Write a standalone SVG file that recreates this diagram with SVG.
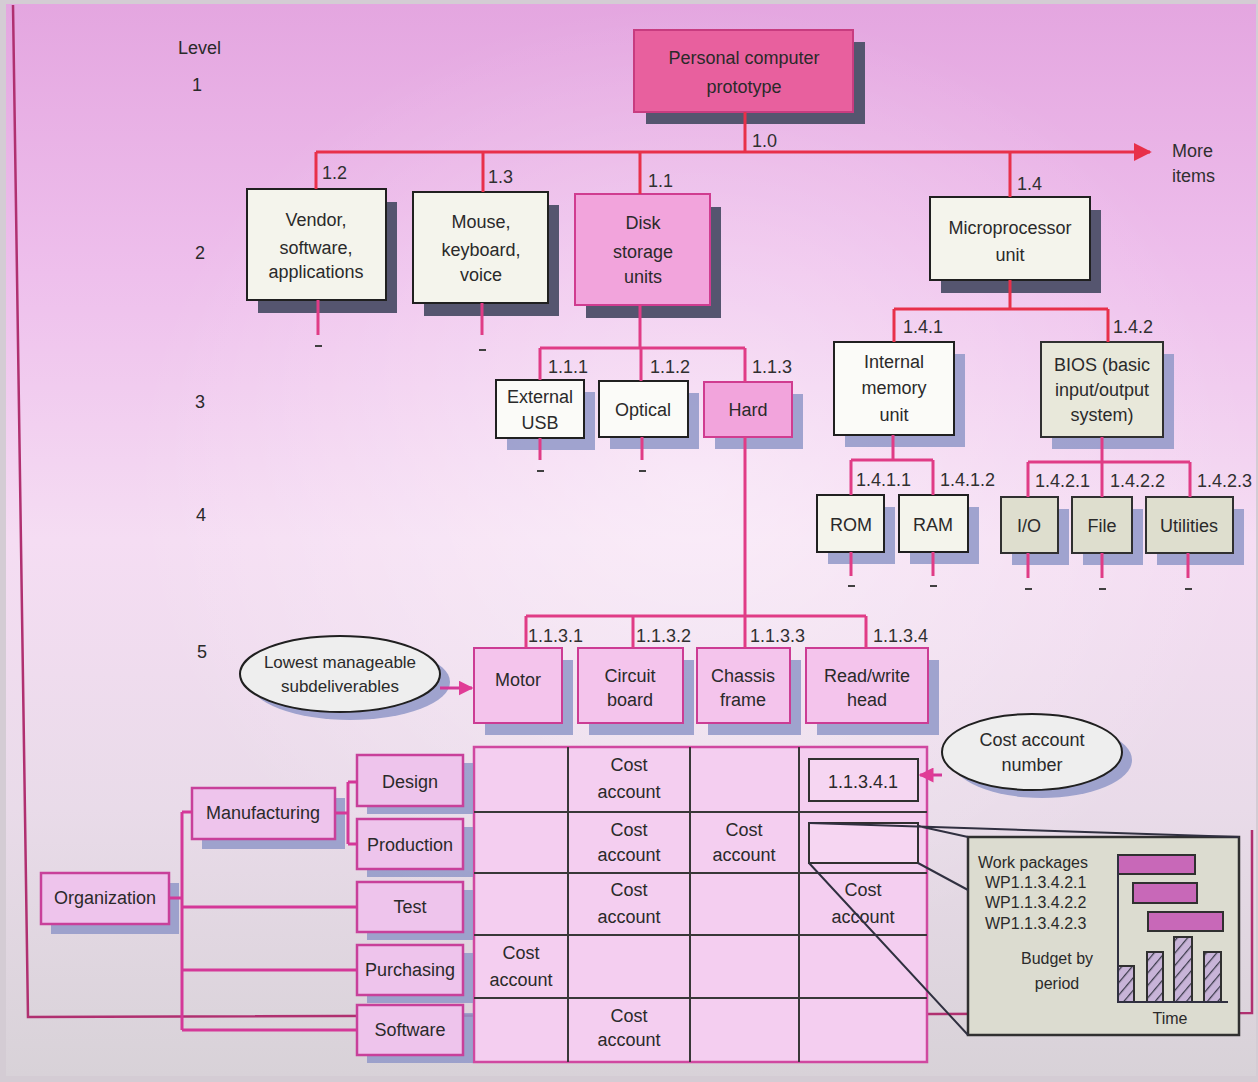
<svg xmlns="http://www.w3.org/2000/svg" width="1258" height="1082" viewBox="0 0 1258 1082">
<defs>
<linearGradient id="bg" x1="0" y1="0" x2="0" y2="1">
<stop offset="0" stop-color="#e4a6e0"/>
<stop offset="0.25" stop-color="#eebfec"/>
<stop offset="0.5" stop-color="#f5ddf3"/>
<stop offset="0.75" stop-color="#e9dbe9"/>
<stop offset="1" stop-color="#d8d2d8"/>
</linearGradient>
<radialGradient id="glow" cx="0.55" cy="0.45" r="0.45">
<stop offset="0" stop-color="#ffffff" stop-opacity="0.45"/>
<stop offset="1" stop-color="#ffffff" stop-opacity="0"/>
</radialGradient>
<pattern id="hatch" width="8" height="8" patternUnits="userSpaceOnUse" patternTransform="rotate(40)">
<rect width="8" height="8" fill="#c8b4d8"/>
<line x1="0" y1="0" x2="0" y2="8" stroke="#3a3a4a" stroke-width="2.5"/>
</pattern>
<marker id="arrRed" viewBox="0 0 10 10" refX="9" refY="5" markerWidth="6" markerHeight="6" orient="auto" markerUnits="strokeWidth">
<path d="M0,0 L10,5 L0,10 z" fill="#e8304a"/>
</marker>
<marker id="arrPink" viewBox="0 0 10 10" refX="9" refY="5" markerWidth="5" markerHeight="5" orient="auto" markerUnits="strokeWidth">
<path d="M0,0 L10,5 L0,10 z" fill="#e03c96"/>
</marker>
<style>
text{font-family:"Liberation Sans",Arial,sans-serif;font-size:18px;fill:#2a2a2a}
.c{text-anchor:middle}
.sm{font-size:16px}
.lbl{font-size:18px;fill:#303030}
.sh1{fill:#55556f}
.sh2{fill:#9098c8;opacity:0.85}
.bw{fill:#f4f4ec;stroke:#202020;stroke-width:2}
.bwh{fill:#fbfbf8;stroke:#202020;stroke-width:2}
.bg2{fill:#dedece;stroke:#303030;stroke-width:2}
.bp{fill:#f2a4dc;stroke:#d03c90;stroke-width:2}
.broot{fill:#e8609e;stroke:#c83c80;stroke-width:2}
.bl5{fill:#f4c4ec;stroke:#cc3c94;stroke-width:2}
.borg{fill:#eec4ec;stroke:#c8409a;stroke-width:2.5}
.red{stroke:#e8304a;stroke-width:3;fill:none}
.pk{stroke:#e03c86;stroke-width:3;fill:none}
.mg{stroke:#d43898;stroke-width:3;fill:none}
.dash{stroke:#404040;stroke-width:2}
.grid{stroke:#383838;stroke-width:2;fill:none}
.thin{stroke:#303040;stroke-width:2;fill:none}
.ell{fill:#eeeeee;stroke:#202020;stroke-width:2}
</style>
</defs>

<g id="background">
<rect x="0" y="0" width="1258" height="1082" fill="#d4ccd4"/>
<rect x="6" y="4" width="1250" height="1072" fill="url(#bg)"/>
<rect x="6" y="4" width="1250" height="1072" fill="url(#glow)"/>
<path d="M13,5 L28,1017 L1252,1013 L1252,830" fill="none" stroke="#b03070" stroke-width="2.5"/>
</g>

<g id="level-labels">
<text x="178" y="54">Level</text>
<text x="197" y="91" class="c">1</text>
<text x="200" y="259" class="c">2</text>
<text x="200" y="408" class="c">3</text>
<text x="201" y="521" class="c">4</text>
<text x="202" y="658" class="c">5</text>
</g>

<g id="n-root">
<rect x="646" y="42" width="219" height="82" class="sh1"/>
<rect x="634" y="30" width="219" height="82" class="broot"/>
<text x="744" y="64" class="c">Personal computer</text>
<text x="744" y="93" class="c">prototype</text>
</g>

<g id="n-1-2">
<rect x="258" y="202" width="139" height="111" class="sh1"/>
<rect x="247" y="189" width="139" height="111" class="bw"/>
<text x="316" y="226" class="c">Vendor,</text>
<text x="316" y="254" class="c">software,</text>
<text x="316" y="278" class="c">applications</text>
</g>
<g id="n-1-3">
<rect x="424" y="205" width="135" height="111" class="sh1"/>
<rect x="413" y="192" width="135" height="111" class="bw"/>
<text x="481" y="228" class="c">Mouse,</text>
<text x="481" y="256" class="c">keyboard,</text>
<text x="481" y="281" class="c">voice</text>
</g>
<g id="n-1-1">
<rect x="586" y="207" width="135" height="111" class="sh1"/>
<rect x="575" y="194" width="135" height="111" class="bp"/>
<text x="643" y="229" class="c">Disk</text>
<text x="643" y="258" class="c">storage</text>
<text x="643" y="283" class="c">units</text>
</g>
<g id="n-1-4">
<rect x="941" y="210" width="160" height="83" class="sh1"/>
<rect x="930" y="197" width="160" height="83" class="bw"/>
<text x="1010" y="234" class="c">Microprocessor</text>
<text x="1010" y="261" class="c">unit</text>
</g>

<g id="n-1-1-1">
<rect x="507" y="392" width="88" height="58" class="sh2"/>
<rect x="496" y="380" width="88" height="58" class="bwh"/>
<text x="540" y="403" class="c">External</text>
<text x="540" y="429" class="c">USB</text>
</g>
<g id="n-1-1-2">
<rect x="610" y="393" width="89" height="56" class="sh2"/>
<rect x="599" y="381" width="89" height="56" class="bwh"/>
<text x="643" y="416" class="c">Optical</text>
</g>
<g id="n-1-1-3">
<rect x="715" y="394" width="88" height="55" class="sh2"/>
<rect x="704" y="382" width="88" height="55" class="bp"/>
<text x="748" y="416" class="c">Hard</text>
</g>

<g id="n-1-4-1">
<rect x="845" y="354" width="120" height="93" class="sh2"/>
<rect x="834" y="342" width="120" height="93" class="bwh"/>
<text x="894" y="368" class="c">Internal</text>
<text x="894" y="394" class="c">memory</text>
<text x="894" y="421" class="c">unit</text>
</g>
<g id="n-1-4-2">
<rect x="1052" y="354" width="122" height="95" class="sh2"/>
<rect x="1041" y="342" width="122" height="95" class="bg2" style="fill:#e8e8da"/>
<text x="1102" y="371" class="c">BIOS (basic</text>
<text x="1102" y="396" class="c">input/output</text>
<text x="1102" y="421" class="c">system)</text>
</g>

<g id="n-1-4-1-1">
<rect x="828" y="507" width="67" height="57" class="sh2"/>
<rect x="817" y="495" width="67" height="57" class="bw"/>
<text x="851" y="531" class="c">ROM</text>
</g>
<g id="n-1-4-1-2">
<rect x="910" y="507" width="69" height="57" class="sh2"/>
<rect x="899" y="495" width="69" height="57" class="bw"/>
<text x="933" y="531" class="c">RAM</text>
</g>
<g id="n-1-4-2-1">
<rect x="1012" y="509" width="57" height="56" class="sh2"/>
<rect x="1001" y="497" width="57" height="56" class="bg2"/>
<text x="1029" y="532" class="c">I/O</text>
</g>
<g id="n-1-4-2-2">
<rect x="1083" y="509" width="60" height="56" class="sh2"/>
<rect x="1072" y="497" width="60" height="56" class="bg2"/>
<text x="1102" y="532" class="c">File</text>
</g>
<g id="n-1-4-2-3">
<rect x="1157" y="509" width="87" height="56" class="sh2"/>
<rect x="1146" y="497" width="87" height="56" class="bg2"/>
<text x="1189" y="532" class="c">Utilities</text>
</g>

<g id="n-1-1-3-1">
<rect x="485" y="660" width="88" height="75" class="sh2"/>
<rect x="474" y="648" width="88" height="75" class="bl5"/>
<text x="518" y="686" class="c">Motor</text>
</g>
<g id="n-1-1-3-2">
<rect x="589" y="660" width="105" height="75" class="sh2"/>
<rect x="578" y="648" width="105" height="75" class="bl5"/>
<text x="630" y="682" class="c">Circuit</text>
<text x="630" y="706" class="c">board</text>
</g>
<g id="n-1-1-3-3">
<rect x="708" y="660" width="93" height="75" class="sh2"/>
<rect x="697" y="648" width="93" height="75" class="bl5"/>
<text x="743" y="682" class="c">Chassis</text>
<text x="743" y="706" class="c">frame</text>
</g>
<g id="n-1-1-3-4">
<rect x="817" y="660" width="122" height="75" class="sh2"/>
<rect x="806" y="648" width="122" height="75" class="bl5"/>
<text x="867" y="682" class="c">Read/write</text>
<text x="867" y="706" class="c">head</text>
</g>

<g id="n-lowest">
<ellipse cx="350" cy="682" rx="100" ry="38" class="sh2"/>
<ellipse cx="340" cy="674" rx="100" ry="38" class="ell"/>
<text x="340" y="668" class="c" style="font-size:17px">Lowest manageable</text>
<text x="340" y="692" class="c" style="font-size:17px">subdeliverables</text>
</g>

<g id="n-matrix">
<rect x="474" y="747" width="453" height="315" fill="#f4cef0" stroke="#d048a0" stroke-width="2.5"/>
<path d="M474,812 H927 M474,873 H927 M474,935 H927 M474,998 H927 M568,747 V1062 M690,747 V1062 M799,747 V1062" class="grid"/>
<text x="629" y="771" class="c">Cost</text><text x="629" y="798" class="c">account</text>
<text x="629" y="836" class="c">Cost</text><text x="629" y="861" class="c">account</text>
<text x="744" y="836" class="c">Cost</text><text x="744" y="861" class="c">account</text>
<text x="629" y="896" class="c">Cost</text><text x="629" y="923" class="c">account</text>
<text x="863" y="896" class="c">Cost</text><text x="863" y="923" class="c">account</text>
<text x="521" y="959" class="c">Cost</text><text x="521" y="986" class="c">account</text>
<text x="629" y="1022" class="c">Cost</text><text x="629" y="1046" class="c">account</text>
<rect x="809" y="759" width="109" height="42" fill="#f6d6f2" stroke="#303030" stroke-width="2"/>
<text x="863" y="788" class="c">1.1.3.4.1</text>
<rect x="809" y="823" width="109" height="40" fill="#f6d6f2" stroke="#303030" stroke-width="2"/>
</g>

<g id="n-costnum">
<ellipse cx="1042" cy="760" rx="90" ry="38" class="sh2"/>
<ellipse cx="1032" cy="752" rx="90" ry="38" class="ell"/>
<text x="1032" y="746" class="c">Cost account</text>
<text x="1032" y="771" class="c">number</text>
</g>

<g id="n-workpackages">
<rect x="968" y="837" width="271" height="198" fill="#dcdcd0" stroke="#303030" stroke-width="2.5"/>
<text x="978" y="868" class="sm">Work packages</text>
<text x="985" y="888" class="sm">WP1.1.3.4.2.1</text>
<text x="985" y="908" class="sm">WP1.1.3.4.2.2</text>
<text x="985" y="929" class="sm">WP1.1.3.4.2.3</text>
<text x="1057" y="964" class="c sm">Budget by</text>
<text x="1057" y="989" class="c sm">period</text>
<rect x="1118" y="855" width="77" height="19" fill="#c868b8" stroke="#303030" stroke-width="2"/>
<rect x="1133" y="883" width="64" height="20" fill="#c868b8" stroke="#303030" stroke-width="2"/>
<rect x="1148" y="912" width="75" height="19" fill="#c868b8" stroke="#303030" stroke-width="2"/>
<rect x="1118" y="966" width="16" height="36" fill="url(#hatch)" stroke="#303030" stroke-width="2"/>
<rect x="1147" y="952" width="16" height="50" fill="url(#hatch)" stroke="#303030" stroke-width="2"/>
<rect x="1174" y="937" width="18" height="65" fill="url(#hatch)" stroke="#303030" stroke-width="2"/>
<rect x="1204" y="952" width="17" height="50" fill="url(#hatch)" stroke="#303030" stroke-width="2"/>
<path d="M1118,855 V1002 H1228" class="thin"/>
<text x="1170" y="1024" class="c sm">Time</text>
</g>

<g id="n-organization">
<rect x="51" y="883" width="128" height="51" class="sh2"/>
<rect x="41" y="873" width="128" height="51" class="borg"/>
<text x="105" y="904" class="c">Organization</text>
</g>
<g id="n-manufacturing">
<rect x="202" y="798" width="143" height="51" class="sh2"/>
<rect x="192" y="788" width="143" height="51" class="borg"/>
<text x="263" y="819" class="c">Manufacturing</text>
</g>
<g id="n-design">
<rect x="367" y="763" width="106" height="51" class="sh2"/>
<rect x="357" y="755" width="106" height="51" class="borg"/>
<text x="410" y="788" class="c">Design</text>
</g>
<g id="n-production">
<rect x="367" y="827" width="106" height="50" class="sh2"/>
<rect x="357" y="819" width="106" height="50" class="borg"/>
<text x="410" y="851" class="c">Production</text>
</g>
<g id="n-test">
<rect x="367" y="890" width="106" height="50" class="sh2"/>
<rect x="357" y="882" width="106" height="50" class="borg"/>
<text x="410" y="913" class="c">Test</text>
</g>
<g id="n-purchasing">
<rect x="367" y="953" width="106" height="50" class="sh2"/>
<rect x="357" y="945" width="106" height="50" class="borg"/>
<text x="410" y="976" class="c">Purchasing</text>
</g>
<g id="n-software">
<rect x="367" y="1013" width="106" height="50" class="sh2"/>
<rect x="357" y="1005" width="106" height="50" class="borg"/>
<text x="410" y="1036" class="c">Software</text>
</g>

<g id="connectors">
<path d="M745,112 V152" class="red"/>
<path d="M316,152 H1150" class="red" marker-end="url(#arrRed)"/>
<path d="M316,152 V189 M483,152 V192 M640,152 V194 M1010,152 V197" class="red"/>
<path d="M318,300 V335 M482,303 V335" class="pk"/>
<path d="M640,305 V348 M540,348 H745 M540,348 V380 M641,348 V381 M745,348 V382" class="pk"/>
<path d="M540,438 V460 M642,437 V460 M745,437 V616" class="pk"/>
<path d="M1010,280 V309 M894,309 H1108 M894,309 V342 M1108,309 V342" class="red"/>
<path d="M893,435 V460 M851,460 H933 M851,460 V495 M933,460 V495 M851,552 V576 M933,552 V576" class="pk"/>
<path d="M1102,437 V462 M1028,462 H1190 M1028,462 V497 M1102,462 V497 M1190,462 V497 M1028,553 V578 M1102,553 V578 M1188,553 V578" class="pk"/>
<path d="M526,616 H866 M526,616 V648 M633,616 V648 M745,616 V648 M866,616 V648" class="pk"/>
<path d="M315,346 H322 M479,350 H486 M537,471 H544 M639,471 H646 M848,586 H855 M930,586 H937 M1025,589 H1032 M1099,589 H1106 M1185,589 H1192" class="dash"/>
<path d="M440,688 H472" class="mg" marker-end="url(#arrPink)"/>
<path d="M942,775 H920" class="mg" marker-end="url(#arrPink)"/>
<path d="M809,823 L1239,837 M918,826 L968,837 M918,863 L968,890 M809,863 L968,1035" class="thin"/>
<path d="M169,898 H182 M182,812 V1030 M182,812 H192 M182,907 H357 M182,970 H357 M182,1030 H357" class="mg"/>
<path d="M335,813 H348 M348,782 V844 M348,782 H357 M348,844 H357" class="mg"/>
</g>

<g id="labels">
<text x="752" y="147" class="lbl">1.0</text>
<text x="1172" y="157" class="lbl">More</text>
<text x="1172" y="182" class="lbl">items</text>
<text x="322" y="179" class="lbl">1.2</text>
<text x="488" y="183" class="lbl">1.3</text>
<text x="648" y="187" class="lbl">1.1</text>
<text x="1017" y="190" class="lbl">1.4</text>
<text x="548" y="373" class="lbl">1.1.1</text>
<text x="650" y="373" class="lbl">1.1.2</text>
<text x="752" y="373" class="lbl">1.1.3</text>
<text x="903" y="333" class="lbl">1.4.1</text>
<text x="1113" y="333" class="lbl">1.4.2</text>
<text x="856" y="486" class="lbl">1.4.1.1</text>
<text x="940" y="486" class="lbl">1.4.1.2</text>
<text x="1035" y="487" class="lbl">1.4.2.1</text>
<text x="1110" y="487" class="lbl">1.4.2.2</text>
<text x="1197" y="487" class="lbl">1.4.2.3</text>
<text x="528" y="642" class="lbl">1.1.3.1</text>
<text x="636" y="642" class="lbl">1.1.3.2</text>
<text x="750" y="642" class="lbl">1.1.3.3</text>
<text x="873" y="642" class="lbl">1.1.3.4</text>
</g>
</svg>
